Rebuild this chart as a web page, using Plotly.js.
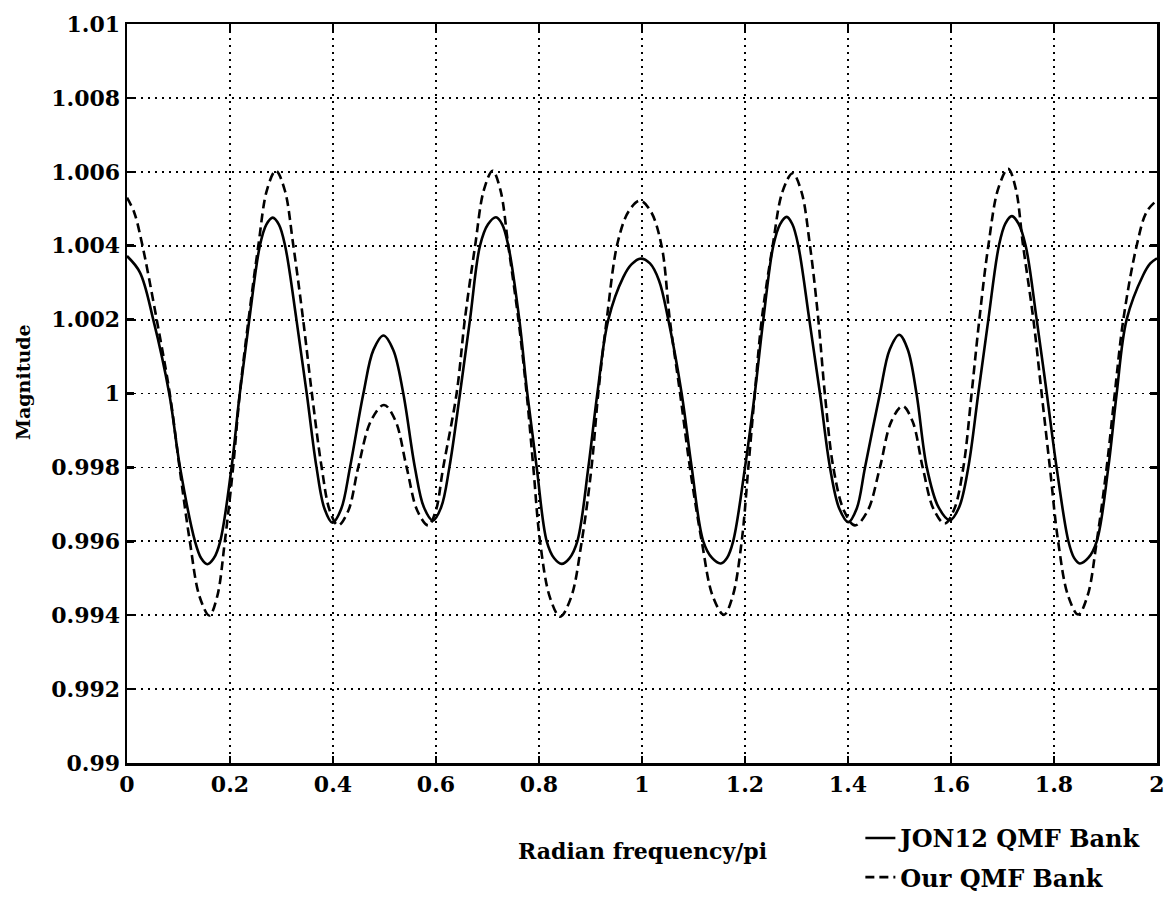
<!DOCTYPE html>
<html>
<head>
<meta charset="utf-8">
<script src="https://cdn.plot.ly/plotly-3.0.1.min.js"></script>
<style>html,body{margin:0;padding:0;background:#fff;}#chart{width:1176px;height:905px;}</style>
</head>
<body>
<div id="chart"></div>
<script>
// JON12 QMF Bank (solid)
const jonX = [0.000,0.025,0.051,0.082,0.103,0.132,0.144,0.156,0.1685,0.181,0.203,0.219,0.2375,0.258,0.2705,0.283,0.295,0.307,0.329,0.349,0.368,0.3835,0.399,0.416,0.433,0.459,0.4785,0.498,0.517,
  0.5365,0.559,0.5765,0.594,0.610,0.626,0.6466,0.666,0.6854,0.701,0.7165,0.7285,0.7404,0.7618,0.7773,0.7955,0.815,0.8295,0.844,0.859,0.8744,0.8958,0.9133,0.9346,0.9637,0.980,0.9975,
  1.0155,1.033,1.051,1.077,1.0965,1.119,1.136,1.153,1.165,1.177,1.200,1.219,1.2356,1.255,1.268,1.281,1.292,1.3035,1.3249,1.3456,1.365,1.383,1.4006,1.417,1.433,1.462,1.481,1.4996,1.516,
  1.533,1.553,1.5755,1.598,1.616,1.6336,1.653,1.6725,1.693,1.7055,1.718,1.731,1.745,1.7664,1.786,1.805,1.828,1.839,1.850,1.8665,1.883,1.9055,1.9217,1.941,1.973,1.987,2.000];
const jonY = [1.00372,1.00328,1.0020,1.0000,0.9980,0.9960,0.99554,0.99538,0.99554,0.9960,0.9980,1.0000,1.0020,1.0040,1.00457,1.00476,1.00457,1.0040,1.0020,1.0000,0.9980,0.99688,0.9965,0.99688,0.9980,1.0000,1.00118,1.00157,1.00118,
  1.0000,0.9980,0.99692,0.99656,0.99692,0.9980,1.0000,1.0020,1.0040,1.00458,1.00477,1.00458,1.0040,1.0020,1.0000,0.9980,0.9960,0.99554,0.99539,0.99554,0.9960,0.9980,1.0000,1.0020,1.00315,1.00350,1.00365,
  1.00352,1.00306,1.0020,1.0000,0.9980,0.9960,0.99555,0.9954,0.99555,0.9960,0.9980,1.0000,1.0020,1.0040,1.00458,1.00478,1.00458,1.0040,1.0020,1.0000,0.9980,0.99689,0.99652,0.99689,0.9980,1.0000,1.00119,1.00159,1.00119,
  1.0000,0.9980,0.99693,0.99657,0.99693,0.9980,1.0000,1.0020,1.0040,1.0046,1.0048,1.0046,1.0040,1.0020,1.0000,0.9980,0.9960,0.99555,0.9954,0.99555,0.9960,0.9980,1.0000,1.0020,1.0032,1.00352,1.00366];

// Our QMF Bank (dashed)
const ourX = [0.000,0.014,0.0285,0.0577,0.083,0.102,0.122,0.141,0.160,0.175,0.190,0.206,0.219,0.236,0.255,0.272,0.289,0.306,0.323,0.342,0.359,0.378,0.394,0.410,0.4295,0.449,0.474,0.499,
  0.521,0.543,0.564,0.585,0.5995,0.614,0.640,0.656,0.676,0.693,0.710,0.725,0.7404,0.760,0.776,0.789,0.802,0.8215,0.841,0.862,0.883,0.902,0.915,0.9315,0.953,0.9745,0.996,
  1.017,1.038,1.054,1.074,1.093,1.116,1.1375,1.159,1.176,1.1936,1.2065,1.219,1.2325,1.2538,1.273,1.2926,1.3094,1.3262,1.3424,1.355,1.3715,1.3925,1.4136,1.438,1.462,1.484,1.506,
  1.5255,1.545,1.5665,1.588,1.606,1.624,1.640,1.655,1.6725,1.692,1.711,1.7255,1.740,1.760,1.776,1.792,1.808,1.8275,1.847,1.865,1.883,1.9023,1.918,1.9346,1.9605,1.980,2.000];
const ourY = [1.0053,1.0049,1.0041,1.0020,1.0000,0.9980,0.9960,0.9945,0.99399,0.9945,0.9960,0.9980,1.0000,1.0020,1.0040,1.00552,1.00603,1.00552,1.0040,1.0020,1.0000,0.9980,0.99682,0.99643,0.99682,0.9980,0.99927,0.99969,
  0.99927,0.9980,0.99682,0.99643,0.99682,0.9980,1.0000,1.0020,1.0040,1.00551,1.00603,1.00551,1.0040,1.0020,1.0000,0.9980,0.9960,0.99447,0.99396,0.99447,0.9960,0.9980,1.0000,1.0020,1.0041,1.00494,1.00522,
  1.00493,1.0040,1.0020,1.0000,0.9980,0.9960,0.99451,0.99401,0.99451,0.9960,0.9980,1.0000,1.0020,1.0040,1.00547,1.00596,1.00547,1.0040,1.0020,1.0000,0.9980,0.99682,0.99643,0.99682,0.9980,0.99924,0.99966,
  0.99924,0.9980,0.99686,0.99648,0.99686,0.9980,1.0000,1.0020,1.0040,1.00556,1.00608,1.00556,1.0040,1.0020,1.0000,0.9980,0.9960,0.99452,0.99402,0.99452,0.9960,0.9980,1.0000,1.0020,1.0040,1.00492,1.00523];

const xTickVals = [0,0.2,0.4,0.6,0.8,1,1.2,1.4,1.6,1.8,2];
const xTickText = ["0","0.2","0.4","0.6","0.8","1","1.2","1.4","1.6","1.8","2"];
const yTickVals = [0.99,0.992,0.994,0.996,0.998,1,1.002,1.004,1.006,1.008,1.01];
const yTickText = ["0.99","0.992","0.994","0.996","0.998","1","1.002","1.004","1.006","1.008","1.01"];

const seriesNames = ["JON12 QMF Bank","Our QMF Bank"];
const xTitle = "Radian frequency/pi";
const yTitle = "Magnitude";

const FONT = "DejaVu Serif, Liberation Serif, serif";

const traces = [
  {x: jonX, y: jonY, name: seriesNames[0], legendgroup: "a", mode: "lines", type: "scatter",
   line: {color: "#000", width: 2.6, shape: "spline", smoothing: 1}},
  {x: ourX, y: ourY, name: seriesNames[1], legendgroup: "b", mode: "lines", type: "scatter",
   line: {color: "#000", width: 2.6, dash: "9px,5px", shape: "spline", smoothing: 1}}
];

const axisCommon = {
  showline: true, linecolor: "#000", linewidth: 2.5, mirror: "ticks",
  ticks: "inside", ticklen: 7, tickwidth: 2.5, tickcolor: "#000",
  showgrid: true, gridcolor: "#000", gridwidth: 1.8, griddash: "2px,5px",
  zeroline: false, automargin: false,
  tickfont: {family: FONT, size: 22, color: "#000", weight: "bold"}
};

const layout = {
  width: 1176, height: 905,
  margin: {l: 127, r: 19, t: 24, b: 142, autoexpand: false},
  paper_bgcolor: "#fff", plot_bgcolor: "#fff",
  showlegend: true,
  legend: {x: 0.712, y: -0.0715, xanchor: "left", yanchor: "top",
    font: {family: FONT, size: 24, color: "#000", weight: "bold"},
    bgcolor: "rgba(0,0,0,0)", traceorder: "grouped", tracegroupgap: 5, itemwidth: 30},
  xaxis: Object.assign({}, axisCommon, {
    range: [0, 2], tickvals: xTickVals, ticktext: xTickText
  }),
  yaxis: Object.assign({}, axisCommon, {
    range: [0.99, 1.01], tickvals: yTickVals, ticktext: yTickText
  }),
  annotations: [
    {text: xTitle, xref: "paper", yref: "paper", x: 0.5, y: -0.119,
     xanchor: "center", yanchor: "middle", showarrow: false,
     font: {family: FONT, size: 22, color: "#000", weight: "bold"}},
    {text: yTitle, xref: "paper", yref: "paper", x: -0.101, y: 0.5155,
     xanchor: "center", yanchor: "middle", textangle: -90, showarrow: false,
     font: {family: FONT, size: 19, color: "#000", weight: "bold"}}
  ]
};

Plotly.newPlot("chart", traces, layout, {displayModeBar: false, staticPlot: true});
</script>
</body>
</html>
